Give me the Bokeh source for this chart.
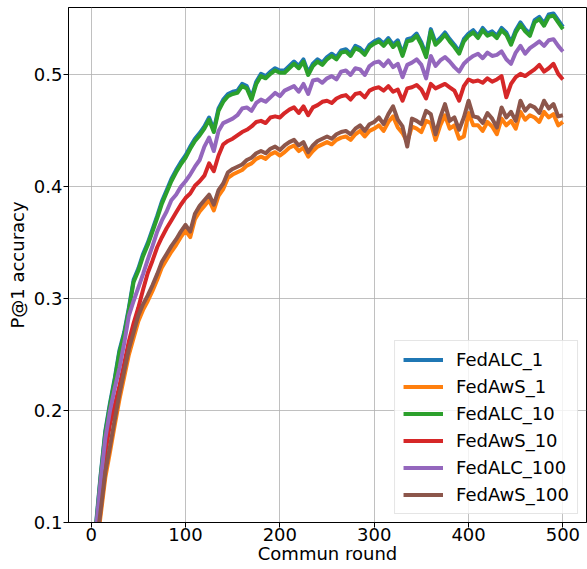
from bokeh.plotting import figure
from bokeh.models import Range1d, FixedTicker, Legend, LegendItem, ColumnDataSource
from bokeh.embed import file_html
from bokeh.resources import INLINE

rounds = [1] + list(range(5, 501, 5))

fedalc_1 = [0.041,
    0.097, 0.142, 0.182, 0.207, 0.229, 0.254, 0.270, 0.292, 0.317, 0.327,
    0.340, 0.350, 0.362, 0.374, 0.387, 0.397, 0.407, 0.415, 0.422, 0.428,
    0.436, 0.443, 0.448, 0.454, 0.462, 0.451, 0.470, 0.478, 0.483, 0.485,
    0.486, 0.492, 0.490, 0.480, 0.494, 0.501, 0.499, 0.503, 0.506, 0.504,
    0.504, 0.508, 0.512, 0.508, 0.514, 0.502, 0.510, 0.514, 0.511, 0.516,
    0.519, 0.516, 0.522, 0.523, 0.519, 0.526, 0.524, 0.520, 0.527, 0.530,
    0.532, 0.528, 0.533, 0.527, 0.531, 0.519, 0.532, 0.533, 0.537, 0.529,
    0.518, 0.541, 0.529, 0.533, 0.538, 0.532, 0.527, 0.521, 0.532, 0.537,
    0.540, 0.535, 0.542, 0.537, 0.539, 0.535, 0.542, 0.538, 0.529, 0.540,
    0.547, 0.541, 0.537, 0.549, 0.552, 0.546, 0.554, 0.555, 0.549, 0.543]

fedaws_1 = [0.028,
    0.072, 0.106, 0.140, 0.163, 0.187, 0.210, 0.230, 0.250, 0.265, 0.280,
    0.290, 0.298, 0.307, 0.317, 0.328, 0.335, 0.342, 0.348, 0.355, 0.361,
    0.355, 0.371, 0.378, 0.383, 0.388, 0.379, 0.392, 0.398, 0.408, 0.411,
    0.413, 0.415, 0.419, 0.421, 0.425, 0.427, 0.425, 0.429, 0.431, 0.428,
    0.431, 0.435, 0.437, 0.432, 0.435, 0.427, 0.432, 0.436, 0.438, 0.440,
    0.438, 0.442, 0.444, 0.445, 0.442, 0.447, 0.450, 0.445, 0.450, 0.452,
    0.455, 0.450, 0.458, 0.463, 0.453, 0.448, 0.440, 0.454, 0.452, 0.449,
    0.459, 0.457, 0.442, 0.455, 0.464, 0.452, 0.455, 0.443, 0.445, 0.466,
    0.455, 0.455, 0.450, 0.458, 0.454, 0.447, 0.461, 0.455, 0.459, 0.452,
    0.467, 0.460, 0.464, 0.462, 0.458, 0.467, 0.462, 0.465, 0.455, 0.458]

fedalc_10 = [0.040,
    0.095, 0.140, 0.180, 0.205, 0.227, 0.252, 0.268, 0.290, 0.315, 0.325,
    0.338, 0.348, 0.360, 0.372, 0.385, 0.395, 0.405, 0.413, 0.420, 0.426,
    0.434, 0.441, 0.446, 0.452, 0.460, 0.449, 0.468, 0.476, 0.481, 0.483,
    0.484, 0.490, 0.488, 0.478, 0.492, 0.499, 0.497, 0.501, 0.504, 0.502,
    0.502, 0.506, 0.510, 0.506, 0.512, 0.500, 0.508, 0.512, 0.509, 0.514,
    0.517, 0.514, 0.520, 0.521, 0.517, 0.524, 0.522, 0.518, 0.525, 0.528,
    0.530, 0.526, 0.531, 0.525, 0.529, 0.517, 0.530, 0.531, 0.535, 0.527,
    0.516, 0.539, 0.527, 0.531, 0.536, 0.530, 0.525, 0.519, 0.530, 0.535,
    0.538, 0.533, 0.540, 0.535, 0.537, 0.533, 0.540, 0.536, 0.527, 0.538,
    0.545, 0.539, 0.535, 0.547, 0.550, 0.544, 0.552, 0.553, 0.547, 0.541]

fedaws_10 = [0.035,
    0.088, 0.128, 0.162, 0.188, 0.205, 0.222, 0.242, 0.262, 0.278, 0.292,
    0.308, 0.323, 0.334, 0.346, 0.355, 0.363, 0.370, 0.377, 0.384, 0.390,
    0.394, 0.401, 0.405, 0.410, 0.421, 0.414, 0.428, 0.438, 0.441, 0.443,
    0.446, 0.449, 0.451, 0.454, 0.458, 0.459, 0.457, 0.462, 0.463, 0.462,
    0.466, 0.469, 0.471, 0.466, 0.472, 0.464, 0.471, 0.473, 0.476, 0.477,
    0.475, 0.479, 0.481, 0.482, 0.478, 0.483, 0.484, 0.480, 0.486, 0.488,
    0.489, 0.486, 0.490, 0.485, 0.487, 0.477, 0.488, 0.489, 0.491, 0.487,
    0.479, 0.492, 0.488, 0.490, 0.492, 0.489, 0.486, 0.477, 0.490, 0.496,
    0.494, 0.495, 0.493, 0.497, 0.494, 0.496, 0.499, 0.480, 0.492, 0.498,
    0.501, 0.499, 0.502, 0.505, 0.509, 0.503, 0.506, 0.510, 0.501, 0.496]

fedalc_100 = [0.040,
    0.093, 0.137, 0.175, 0.200, 0.220, 0.238, 0.260, 0.285, 0.298, 0.310,
    0.322, 0.335, 0.347, 0.360, 0.370, 0.378, 0.388, 0.393, 0.400, 0.405,
    0.411, 0.418, 0.424, 0.436, 0.444, 0.432, 0.450, 0.457, 0.459, 0.461,
    0.464, 0.470, 0.471, 0.468, 0.475, 0.478, 0.476, 0.480, 0.484, 0.481,
    0.486, 0.488, 0.490, 0.485, 0.492, 0.483, 0.495, 0.496, 0.493, 0.497,
    0.499, 0.496, 0.503, 0.504, 0.500, 0.506, 0.505, 0.500, 0.508, 0.511,
    0.512, 0.508, 0.513, 0.507, 0.510, 0.498, 0.509, 0.511, 0.514, 0.509,
    0.497, 0.517, 0.508, 0.513, 0.516, 0.512, 0.507, 0.503, 0.510, 0.514,
    0.517, 0.519, 0.515, 0.520, 0.517, 0.518, 0.521, 0.514, 0.510, 0.520,
    0.526, 0.519, 0.524, 0.527, 0.530, 0.526, 0.531, 0.532, 0.526, 0.521]

fedaws_100 = [0.030,
    0.075, 0.110, 0.145, 0.168, 0.192, 0.215, 0.235, 0.255, 0.270, 0.285,
    0.295, 0.303, 0.312, 0.322, 0.333, 0.340, 0.347, 0.353, 0.360, 0.366,
    0.360, 0.376, 0.383, 0.388, 0.393, 0.384, 0.397, 0.403, 0.413, 0.416,
    0.418, 0.420, 0.424, 0.426, 0.430, 0.432, 0.430, 0.434, 0.436, 0.433,
    0.437, 0.440, 0.442, 0.437, 0.440, 0.431, 0.437, 0.441, 0.443, 0.445,
    0.443, 0.447, 0.449, 0.450, 0.447, 0.452, 0.455, 0.450, 0.456, 0.458,
    0.462, 0.456, 0.465, 0.472, 0.460, 0.454, 0.436, 0.461, 0.459, 0.456,
    0.468, 0.465, 0.447, 0.462, 0.474, 0.459, 0.462, 0.451, 0.462, 0.477,
    0.463, 0.462, 0.457, 0.466, 0.461, 0.453, 0.471, 0.462, 0.467, 0.459,
    0.477, 0.468, 0.473, 0.471, 0.466, 0.477, 0.470, 0.474, 0.463, 0.464]

series_names = ["FedALC_1", "FedAwS_1", "FedALC_10", "FedAwS_10", "FedALC_100", "FedAwS_100"]
series_values = [fedalc_1, fedaws_1, fedalc_10, fedaws_10, fedalc_100, fedaws_100]
colors = ["#1f77b4", "#ff7f0e", "#2ca02c", "#d62728", "#9467bd", "#8c564b"]

x_ticks = [0, 100, 200, 300, 400, 500]
y_ticks = [0.1, 0.2, 0.3, 0.4, 0.5]

FONT = "DejaVu Sans"

p = figure(width=587, height=569, output_backend="svg", toolbar_location=None,
           x_range=Range1d(-24, 525), y_range=Range1d(0.1, 0.5603),
           min_border_left=68, min_border_right=1, min_border_top=7, min_border_bottom=47,
           background_fill_color="white", border_fill_color="white")

p.outline_line_color = "black"
p.outline_line_width = 1
p.outline_line_alpha = 1

items = []
for name, vals, col in zip(series_names, series_values, colors):
    src = ColumnDataSource(dict(x=rounds, y=vals))
    r = p.line("x", "y", source=src, line_color=col, line_width=4, line_join="round")
    items.append(LegendItem(label=name, renderers=[r]))

p.xaxis.ticker = FixedTicker(ticks=x_ticks)
p.yaxis.ticker = FixedTicker(ticks=y_ticks)
for ax in (p.xaxis, p.yaxis):
    ax.major_label_text_font = FONT
    ax.major_label_text_font_size = "18px"
    ax.major_label_text_color = "black"
    ax.axis_label_text_font = FONT
    ax.axis_label_text_font_size = "18px"
    ax.axis_label_text_font_style = "normal"
    ax.axis_label_text_color = "black"
    ax.axis_line_color = "black"
    ax.major_tick_line_color = "black"
    ax.major_tick_out = 5
    ax.major_tick_in = 0
    ax.minor_tick_line_color = None

p.xaxis.major_label_standoff = 0
p.xaxis.axis_label_standoff = -1
p.yaxis.major_label_standoff = 1
p.yaxis.axis_label_standoff = 3
p.xaxis.axis_label = "Commun round"
p.yaxis.axis_label = "P@1 accuracy"

p.grid.grid_line_color = "#b0b0b0"
p.grid.grid_line_width = 0.8
p.grid.grid_line_alpha = 1

legend = Legend(items=items, location="bottom_right")
legend.label_text_font = FONT
legend.label_text_font_size = "18px"
legend.label_text_color = "black"
legend.glyph_width = 40
legend.glyph_height = 21
legend.label_height = 21
legend.spacing = 6
legend.padding = 8
legend.margin = 8
legend.label_standoff = 13
legend.border_line_color = "#cccccc"
legend.border_line_width = 1
legend.background_fill_color = "white"
legend.background_fill_alpha = 0.8
p.add_layout(legend)

open("out.html", "w").write(file_html(p, INLINE))
